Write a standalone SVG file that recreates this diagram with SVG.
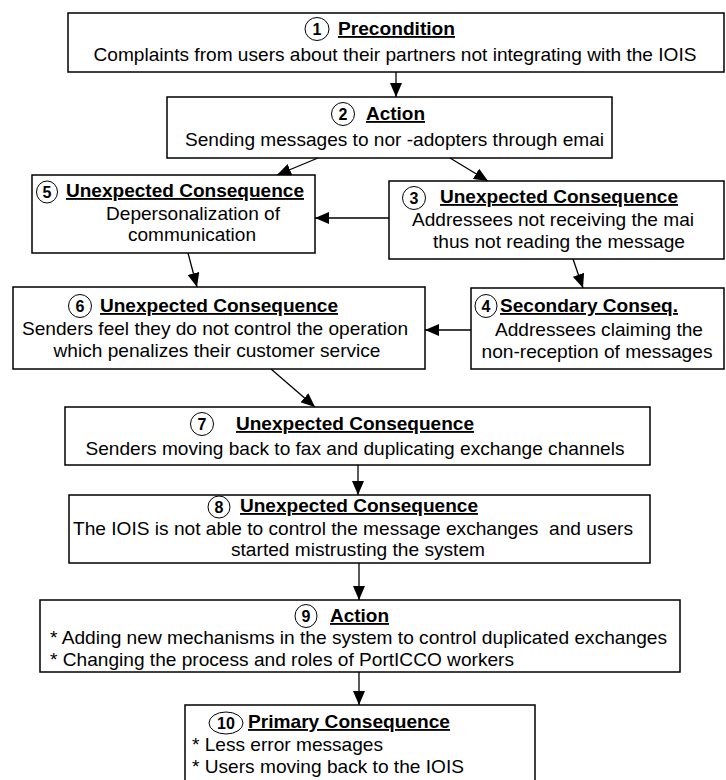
<svg xmlns="http://www.w3.org/2000/svg" width="726" height="780" viewBox="0 0 726 780">
<style>
.bg{fill:#fff}
.box{fill:#fff;stroke:#000;stroke-width:1.5}
.t{font-family:"Liberation Sans",Arial,sans-serif;font-size:18.5px;fill:#000}
.m{text-anchor:middle}
.h{font-weight:bold;text-decoration:underline}
.num{font-family:"Liberation Sans",Arial,sans-serif;font-weight:bold;font-size:16px;text-anchor:middle;fill:#000}
.c{fill:none;stroke:#000;stroke-width:1}
.conn line{stroke:#000;stroke-width:1.3;marker-end:url(#ah)}
</style>
<defs>
<marker id="ah" markerUnits="userSpaceOnUse" markerWidth="14" markerHeight="12" refX="14" refY="6" orient="auto">
<path d="M0,0 L14,6 L0,12 z" fill="#000"/>
</marker>
</defs>
<rect class="bg" x="0" y="0" width="726" height="780"/>

<g id="node1">
<rect class="box" x="68" y="13" width="656" height="59"/>
<ellipse class="c" cx="317" cy="29" rx="12" ry="11.5"/>
<text class="num" x="317" y="35">1</text>
<text class="t h" x="338" y="35" textLength="117" lengthAdjust="spacingAndGlyphs">Precondition</text>
<text class="t m" x="395" y="61" textLength="603" lengthAdjust="spacingAndGlyphs">Complaints from users about their partners not integrating with the IOIS</text>
</g>

<g id="node2">
<rect class="box" x="167" y="97" width="445" height="61"/>
<ellipse class="c" cx="343" cy="114" rx="11.5" ry="11.5"/>
<text class="num" x="343" y="120">2</text>
<text class="t h" x="366" y="120" textLength="59" lengthAdjust="spacingAndGlyphs">Action</text>
<text class="t m" x="394.5" y="146" textLength="419" lengthAdjust="spacingAndGlyphs">Sending messages to nor -adopters through emai</text>
</g>

<g id="node5">
<rect class="box" x="32" y="175" width="283" height="78"/>
<ellipse class="c" cx="47" cy="192" rx="10.5" ry="11"/>
<text class="num" x="47" y="198">5</text>
<text class="t h" x="66" y="197" textLength="238" lengthAdjust="spacingAndGlyphs">Unexpected Consequence</text>
<text class="t m" x="193" y="220" textLength="174" lengthAdjust="spacingAndGlyphs">Depersonalization of</text>
<text class="t m" x="192" y="241" textLength="128" lengthAdjust="spacingAndGlyphs">communication</text>
</g>

<g id="node3">
<rect class="box" x="389" y="181" width="335" height="78"/>
<ellipse class="c" cx="414" cy="198" rx="11.5" ry="11.5"/>
<text class="num" x="414" y="204">3</text>
<text class="t h" x="440" y="203" textLength="238" lengthAdjust="spacingAndGlyphs">Unexpected Consequence</text>
<text class="t m" x="553" y="226" textLength="282" lengthAdjust="spacingAndGlyphs">Addressees not receiving the mai</text>
<text class="t m" x="559" y="248" textLength="252" lengthAdjust="spacingAndGlyphs">thus not reading the message</text>
</g>

<g id="node6">
<rect class="box" x="13" y="287" width="412" height="82"/>
<ellipse class="c" cx="80" cy="306" rx="11.5" ry="11.5"/>
<text class="num" x="80" y="312">6</text>
<text class="t h" x="100" y="312" textLength="238" lengthAdjust="spacingAndGlyphs">Unexpected Consequence</text>
<text class="t m" x="215" y="335" textLength="386" lengthAdjust="spacingAndGlyphs">Senders feel they do not control the operation</text>
<text class="t m" x="217" y="357" textLength="327" lengthAdjust="spacingAndGlyphs">which penalizes their customer service</text>
</g>

<g id="node4">
<rect class="box" x="471" y="288" width="253" height="81"/>
<ellipse class="c" cx="486" cy="306" rx="11" ry="11.5"/>
<text class="num" x="486" y="312">4</text>
<text class="t h" x="500" y="312" textLength="178" lengthAdjust="spacingAndGlyphs">Secondary Conseq.</text>
<text class="t m" x="599" y="336" textLength="208" lengthAdjust="spacingAndGlyphs">Addressees claiming the</text>
<text class="t m" x="597" y="358" textLength="231" lengthAdjust="spacingAndGlyphs">non-reception of messages</text>
</g>

<g id="node7">
<rect class="box" x="65" y="407" width="585" height="58"/>
<ellipse class="c" cx="202" cy="424" rx="11.5" ry="11.5"/>
<text class="num" x="202" y="430">7</text>
<text class="t h" x="236" y="430" textLength="238" lengthAdjust="spacingAndGlyphs">Unexpected Consequence</text>
<text class="t m" x="355" y="455" textLength="539" lengthAdjust="spacingAndGlyphs">Senders moving back to fax and duplicating exchange channels</text>
</g>

<g id="node8">
<rect class="box" x="69" y="495" width="581" height="68"/>
<ellipse class="c" cx="219" cy="507" rx="11" ry="11"/>
<text class="num" x="219" y="513">8</text>
<text class="t h" x="240" y="512" textLength="238" lengthAdjust="spacingAndGlyphs">Unexpected Consequence</text>
<text class="t m" x="353" y="535" textLength="560" lengthAdjust="spacingAndGlyphs" xml:space="preserve">The IOIS is not able to control the message exchanges  and users</text>
<text class="t m" x="358" y="556" textLength="254" lengthAdjust="spacingAndGlyphs">started mistrusting the system</text>
</g>

<g id="node9">
<rect class="box" x="40" y="600" width="640" height="72"/>
<ellipse class="c" cx="306" cy="616" rx="11" ry="11.5"/>
<text class="num" x="306" y="622">9</text>
<text class="t h" x="330" y="622" textLength="59" lengthAdjust="spacingAndGlyphs">Action</text>
<text class="t" x="50" y="644" textLength="617" lengthAdjust="spacingAndGlyphs">* Adding new mechanisms in the system to control duplicated exchanges</text>
<text class="t" x="50" y="666" textLength="464" lengthAdjust="spacingAndGlyphs">* Changing the process and roles of PortICCO workers</text>
</g>

<g id="node10">
<rect class="box" x="185" y="705" width="350" height="90"/>
<ellipse class="c" cx="226" cy="723" rx="17" ry="11"/>
<text class="num" x="226" y="729">10</text>
<text class="t h" x="248" y="728" textLength="202" lengthAdjust="spacingAndGlyphs">Primary Consequence</text>
<text class="t" x="192" y="751" textLength="191" lengthAdjust="spacingAndGlyphs">* Less error messages</text>
<text class="t" x="192" y="773" textLength="272" lengthAdjust="spacingAndGlyphs">* Users moving back to the IOIS</text>
</g>

<g id="connectors" class="conn">
<line x1="396" y1="72" x2="396" y2="97"/>
<line x1="318" y1="158" x2="277" y2="175"/>
<line x1="450" y1="158" x2="488" y2="181"/>
<line x1="389" y1="218" x2="315" y2="218"/>
<line x1="188" y1="253" x2="197" y2="287"/>
<line x1="573" y1="259" x2="583" y2="288"/>
<line x1="471" y1="330" x2="425" y2="330"/>
<line x1="271" y1="369" x2="315" y2="407"/>
<line x1="358" y1="465" x2="358" y2="495"/>
<line x1="359" y1="563" x2="359" y2="600"/>
<line x1="359" y1="672" x2="359" y2="705"/>
</g>
</svg>
